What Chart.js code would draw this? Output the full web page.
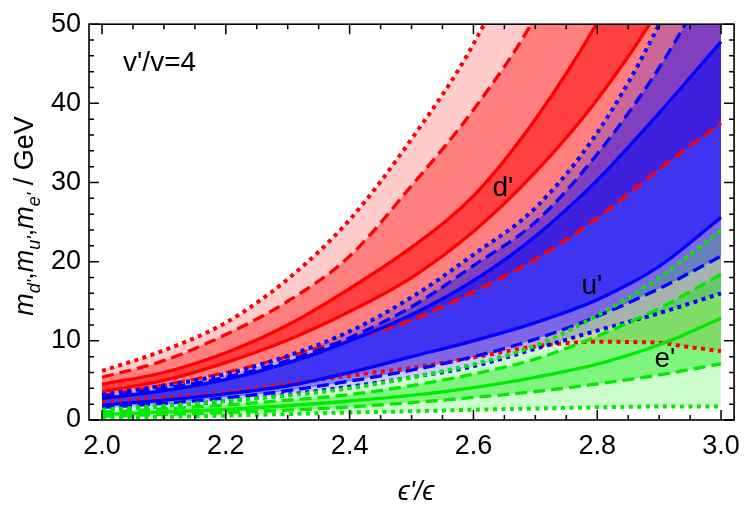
<!DOCTYPE html>
<html><head><meta charset="utf-8">
<script src="https://cdn.jsdelivr.net/npm/chart.js@4/dist/chart.umd.min.js"></script>
<style>html,body{margin:0;padding:0;background:#fff}</style>
</head><body>
<canvas id="c" width="750" height="513"></canvas>
<script>
// ---- data ----
const xs = [2.0, 2.1, 2.2, 2.3, 2.4, 2.5, 2.6, 2.7, 2.8, 2.9, 3.0];
const xsFine = [2.0, 2.1, 2.2, 2.3, 2.4, 2.5, 2.6, 2.7, 2.75, 2.8, 2.85, 2.9, 2.95, 3.0];

// d' (red)
const dDotUp   = [6.2, 8.8, 12.3, 17.8, 25.3, 35.5, 47.5, 64, 86, 115, 150];
const dDashUp  = [5.4, 7.5, 10.8, 15.0, 20.7, 29.6, 39.2, 51, 68, 90, 120];
const dSolidUp = [4.5, 6.0, 8.5, 12.0, 16.6, 21.8, 28.3, 38.0, 50.2, 65, 84];
const dSolidLo = [3.6, 5.0, 7.25, 10.1, 13.7, 18.0, 23.8, 31.3, 40.5, 52, 67];
const dDashLo  = [3.1, 4.4, 6.0, 8.0, 10.2, 12.6, 16.2, 20.3, 25.5, 31.7, 37.5];
const dDotLo   = [2.3, 2.8, 3.5, 4.55, 5.6, 6.6, 7.9, 9.3, 9.7, 9.9, 9.85, 9.75, 9.2, 8.7];

// u' (blue)
const uDotUp   = [3.2, 4.35, 5.8, 8.1, 11.2, 15.5, 20.9, 26.8, 36.3, 50, 68];
const uDashUp  = [3.0, 4.0, 5.4, 7.5, 10.4, 14.3, 19.5, 25.0, 33.6, 44.5, 58];
const uSolidUp = [2.7, 3.7, 5.1, 7.2, 10.0, 13.3, 17.6, 23.2, 30.3, 38.8, 47.8];
const uSolidLo = [1.9, 2.5, 3.3, 4.3, 6.0, 8.0, 10.0, 12.3, 15.2, 19.4, 25.6];
const uDashLo  = [1.6, 2.1, 2.8, 3.7, 4.9, 6.3, 8.0, 10.2, 13.1, 16.6, 20.7];
const uDotLo   = [1.35, 1.8, 2.4, 3.2, 4.2, 5.4, 6.8, 9.0, 11.3, 13.5, 16.0];

// e' (green)
const eDotUp   = [1.3, 1.8, 2.4, 3.1, 4.0, 5.4, 7.05, 9.4, 13.2, 18.0, 24.0];
const eDashUp  = [1.0, 1.4, 1.9, 2.5, 3.2, 4.35, 5.8, 7.7, 10.6, 14.1, 18.4];
const eSolid   = [0.7, 1.0, 1.35, 1.8, 2.4, 3.1, 4.1, 5.4, 7.05, 9.5, 12.85];
const eDashLo  = [0.5, 0.7, 0.95, 1.25, 1.65, 2.2, 2.85, 3.6, 4.55, 5.7, 7.1];
const eDotLo   = [0.3, 0.4, 0.55, 0.75, 0.95, 1.1, 1.3, 1.45, 1.6, 1.7, 1.7];

const xTicks = [2.0, 2.2, 2.4, 2.6, 2.8, 3.0];
const yTicks = [0, 10, 20, 30, 40, 50];
const xMinor = [2.05,2.1,2.15,2.25,2.3,2.35,2.45,2.5,2.55,2.65,2.7,2.75,2.85,2.9,2.95];
const yMinor = [2,4,6,8,12,14,16,18,22,24,26,28,32,34,36,38,42,44,46,48];

// ---- styling ----
const FONT = '"Liberation Sans", Arial, sans-serif';
const DOT = [4, 4.5], DASH = [12, 6], SOLID = [];
const pts = (xa, ya) => ya.map((y, i) => ({x: xa[i], y}));

const datasets = [];
function group(rgb, curves) {
  const base = datasets.length;
  curves.forEach((c, i) => {
    let fill = false;
    if (c.fillA != null) {
      const col = `rgba(${rgb},${c.fillA})`;
      fill = {target: base + i + 1, above: col, below: col};
    }
    datasets.push({
      data: pts(c.x || xs, c.y),
      borderColor: `rgb(${rgb})`,
      borderWidth: c.dash === DOT ? 4 : 3.3,
      borderDash: c.dash,
      borderCapStyle: 'butt',
      pointRadius: 0,
      cubicInterpolationMode: 'monotone',
      fill
    });
  });
}
// draw order: green (top), blue, red (bottom)
group('0,235,0', [
  {y: eDotUp, dash: DOT, fillA: 0.2},
  {y: eDashUp, dash: DASH, fillA: 0.5},
  {y: eSolid, dash: SOLID, fillA: 0.5},
  {y: eDashLo, dash: DASH, fillA: 0.2},
  {y: eDotLo, dash: DOT}
]);
group('0,0,255', [
  {y: uDotUp, dash: DOT, fillA: 0.2},
  {y: uDashUp, dash: DASH, fillA: 0.5},
  {y: uSolidUp, dash: SOLID, fillA: 0.75},
  {y: uSolidLo, dash: SOLID, fillA: 0.5},
  {y: uDashLo, dash: DASH, fillA: 0.2},
  {y: uDotLo, dash: DOT}
]);
group('255,0,0', [
  {y: dDotUp, dash: DOT, fillA: 0.2},
  {y: dDashUp, dash: DASH, fillA: 0.5},
  {y: dSolidUp, dash: SOLID, fillA: 0.75},
  {y: dSolidLo, dash: SOLID, fillA: 0.5},
  {y: dDashLo, dash: DASH, fillA: 0.2},
  {y: dDotLo, dash: DOT, x: xsFine}
]);

const frame = {
  id: 'frame',
  afterDraw(chart) {
    const {ctx, chartArea: a, scales: {x, y}} = chart;
    ctx.save();
    ctx.strokeStyle = '#000';
    ctx.lineWidth = 1.6;
    ctx.strokeRect(a.left, a.top, a.right - a.left, a.bottom - a.top);
    ctx.lineWidth = 1.5;
    ctx.beginPath();
    const tk = (vals, len) => {
      vals.forEach(v => {
        const px = x.getPixelForValue(v);
        ctx.moveTo(px, a.bottom); ctx.lineTo(px, a.bottom - len);
        ctx.moveTo(px, a.top); ctx.lineTo(px, a.top + len);
      });
    };
    const tky = (vals, len) => {
      vals.forEach(v => {
        const py = y.getPixelForValue(v);
        ctx.moveTo(a.left, py); ctx.lineTo(a.left + len, py);
        ctx.moveTo(a.right, py); ctx.lineTo(a.right - len, py);
      });
    };
    tk(xTicks, 10); tk(xMinor, 5); tky(yTicks, 10); tky(yMinor, 5);
    ctx.stroke();

    // annotations
    ctx.fillStyle = '#000';
    ctx.textBaseline = 'middle';
    ctx.textAlign = 'left';
    ctx.font = '28px ' + FONT;
    ctx.fillText("v'/v=4", 123, 63);
    ctx.textAlign = 'center';
    ctx.fillText("d'", 503, 188);
    ctx.fillText("u'", 592, 286);
    ctx.fillText("e'", 665, 359);

    // x title
    ctx.font = 'italic 27px ' + FONT;
    ctx.fillText("\u03F5'/\u03F5", 416, 492);

    // y title with subscripts
    const big = 27, small = 18;
    const parts = [
      ['m', 'italic ' + big + 'px ' + FONT, 0],
      ["d'", 'italic ' + small + 'px ' + FONT, 7],
      [',', big + 'px ' + FONT, 0],
      ['m', 'italic ' + big + 'px ' + FONT, 0],
      ["u'", 'italic ' + small + 'px ' + FONT, 7],
      [',', big + 'px ' + FONT, 0],
      ['m', 'italic ' + big + 'px ' + FONT, 0],
      ["e'", 'italic ' + small + 'px ' + FONT, 7],
      [' / GeV', big + 'px ' + FONT, 0]
    ];
    let total = 0;
    parts.forEach(p => { ctx.font = p[1]; p.w = ctx.measureText(p[0]).width; total += p.w; });
    ctx.translate(33, 216);
    ctx.rotate(-Math.PI / 2);
    ctx.textAlign = 'left';
    ctx.textBaseline = 'alphabetic';
    let cx = -total / 2;
    parts.forEach(p => { ctx.font = p[1]; ctx.fillText(p[0], cx, p[2]); cx += p.w; });
    ctx.restore();
  }
};

new Chart(document.getElementById('c'), {
  type: 'line',
  data: {datasets},
  options: {
    responsive: false,
    animation: false,
    devicePixelRatio: 1,
    layout: {padding: {top: 18, right: 8, left: 0, bottom: 0}},
    plugins: {
      legend: {display: false},
      tooltip: {enabled: false},
      filler: {drawTime: 'beforeDatasetsDraw', propagate: false}
    },
    scales: {
      x: {
        type: 'linear', min: 1.979, max: 3.021,
        afterBuildTicks: s => { s.ticks = xTicks.map(v => ({value: v})); },
        afterFit: s => { s.height = 93; },
        grid: {display: false, drawTicks: false},
        border: {display: false},
        ticks: {color: '#000', font: {family: FONT, size: 27}, padding: 10, maxRotation: 0, autoSkip: false,
                callback: v => Number(v).toFixed(1)}
      },
      y: {
        type: 'linear', min: 0, max: 50,
        afterBuildTicks: s => { s.ticks = yTicks.map(v => ({value: v})); },
        afterFit: s => { s.width = 89; },
        grid: {display: false, drawTicks: false},
        border: {display: false},
        ticks: {color: '#000', font: {family: FONT, size: 27}, padding: 8, autoSkip: false,
                callback: v => String(v)}
      }
    }
  },
  plugins: [frame]
});
</script>
</body></html>
